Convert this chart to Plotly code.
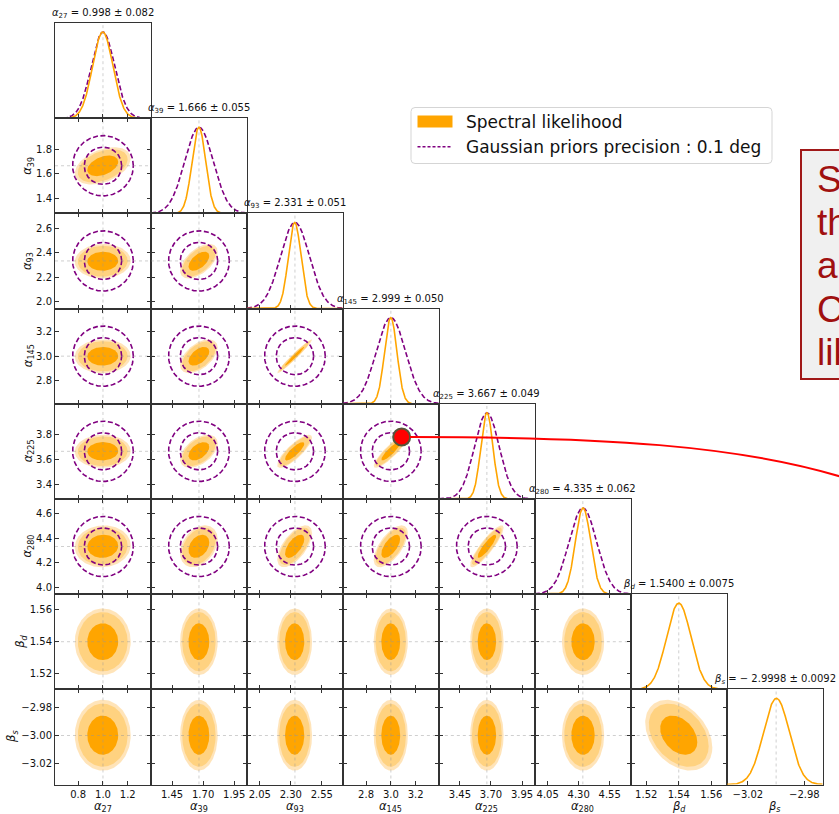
import numpy as np
import plotly.graph_objects as go

# ---------------------------------------------------------------- fit results
PARAM_LABELS = ["<i>α</i><sub>27</sub>", "<i>α</i><sub>39</sub>", "<i>α</i><sub>93</sub>",
                "<i>α</i><sub>145</sub>", "<i>α</i><sub>225</sub>", "<i>α</i><sub>280</sub>",
                "<i>β</i><sub><i>d</i></sub>", "<i>β</i><sub><i>s</i></sub>"]
TITLE_DECIMALS = [3, 3, 3, 3, 3, 3, 4, 4]
TRUE_VALUES = [1.0, 1.6667, 2.3333, 3.0, 3.6667, 4.3333, 1.54, -3.0]
POST_MEANS = [0.998, 1.666, 2.331, 2.999, 3.667, 4.335, 1.5400, -2.9998]
POST_SIGMAS = [0.082, 0.055, 0.051, 0.050, 0.049, 0.062, 0.0075, 0.0092]

# correlation coefficients of the spectral likelihood (lower triangle, row i vs column j)
CORR_ROWS = [
    [],
    [0.40],
    [0.03, 0.55],
    [0.02, 0.52, 0.975],
    [0.02, 0.48, 0.82, 0.88],
    [0.04, 0.33, 0.62, 0.64, 0.88],
    [0.00, 0.00, 0.00, 0.00, 0.00, 0.00],
    [0.00, 0.00, 0.00, 0.00, 0.00, 0.00, -0.35],
]

# Gaussian priors on the polarisation angles (0.1 deg)
N_ANGLES = 6
PRIOR_SIGMA = 0.1
PRIOR_LEVELS = [0.68, 0.95]
PRIOR_CURVE_SIGMAS = [0.094, 0.115, 0.117, 0.118, 0.100, 0.112]

# likelihood contour levels (Mahalanobis radii) and the sparse sample edge
CONTOUR_RADII = [1.52, 2.45]
EDGE_RADIUS = 2.75

# highlighted sample in the alpha145 / alpha225 panel
MARK_X, MARK_Y = 3.087, 3.783

# ---------------------------------------------------------------- axes set-up
AX_RANGES = [(0.613, 1.387), (1.280, 2.053), (1.946, 2.720), (2.613, 3.387),
             (3.280, 4.053), (3.946, 4.720), (1.5105, 1.5695), (-3.035, -2.967)]
X_TICKS = [[0.8, 1.0, 1.2], [1.45, 1.70, 1.95], [2.05, 2.30, 2.55], [2.8, 3.0, 3.2],
           [3.45, 3.70, 3.95], [4.05, 4.30, 4.55], [1.52, 1.54, 1.56], [-3.02, -2.98]]
X_TICK_FMT = [".1f", ".2f", ".2f", ".1f", ".2f", ".2f", ".2f", ".2f"]
Y_TICKS = [[], [1.4, 1.6, 1.8], [2.0, 2.2, 2.4, 2.6], [2.8, 3.0, 3.2], [3.4, 3.6, 3.8],
           [4.0, 4.2, 4.4, 4.6], [1.52, 1.54, 1.56], [-3.02, -3.00, -2.98]]
Y_TICK_FMT = [".1f", ".1f", ".1f", ".1f", ".1f", ".1f", ".2f", ".2f"]
Y_LABEL_X = [0, 28, 28, 28, 28, 28, 21, 12]

FIG_W, FIG_H = 839, 814
G_LEFT, G_RIGHT, G_TOP, G_BOTTOM = 55.0, 822.7, 23.0, 784.5
N = len(PARAM_LABELS)
CW = (G_RIGHT - G_LEFT) / N
CH = (G_BOTTOM - G_TOP) / N

ORANGE = "#FFA500"
ORANGE_LIGHT = "#FFD280"
ORANGE_EDGE = "rgba(255,196,100,0.45)"
PURPLE = "#800080"
SPINE = "#333333"
TRUTH = "rgba(150,150,150,0.65)"
FONT = "DejaVu Sans"


def fx(px):
    return px / FIG_W


def fy(py):
    return 1 - py / FIG_H


def ellipse(mx, my, sx, sy, rho, r, npts=140):
    t = np.linspace(0, 2 * np.pi, npts)
    x = mx + r * sx * np.cos(t)
    y = my + r * sy * (rho * np.cos(t) + np.sqrt(1 - rho ** 2) * np.sin(t))
    return x, y


def fmt_value(v, d):
    s = f"{v:.{d}f}"
    return s.replace("-", "− ") if v < 0 else s


fig = go.Figure()
layout = {}
annotations = []
shapes = []

k = 0
for i in range(N):
    for j in range(i + 1):
        k += 1
        xs = "x" if k == 1 else f"x{k}"
        ys = "y" if k == 1 else f"y{k}"
        xa = "xaxis" if k == 1 else f"xaxis{k}"
        ya = "yaxis" if k == 1 else f"yaxis{k}"
        diag = i == j
        bottom = i == N - 1
        left = j == 0 and not diag

        layout[xa] = dict(
            domain=[fx(G_LEFT + j * CW), fx(G_LEFT + (j + 1) * CW)],
            range=list(AX_RANGES[j]), anchor=ys, tickmode="array",
            tickvals=X_TICKS[j], tickformat=X_TICK_FMT[j],
            ticks="inside", ticklen=4, tickwidth=1, tickcolor=SPINE,
            mirror=True if diag else "allticks", showline=True,
            linecolor=SPINE, linewidth=1, showgrid=False, zeroline=False,
            showticklabels=bottom, automargin=False,
            tickfont=dict(size=10, color="#111111"),
        )
        layout[ya] = dict(
            domain=[fy(G_TOP + (i + 1) * CH), fy(G_TOP + i * CH)],
            range=[0, 1.105] if diag else list(AX_RANGES[i]), anchor=xs,
            tickmode="array", tickvals=[] if diag else Y_TICKS[i],
            tickformat=Y_TICK_FMT[i],
            ticks="" if diag else "inside", ticklen=4, tickwidth=1, tickcolor=SPINE,
            mirror=True if diag else "allticks", showline=True,
            linecolor=SPINE, linewidth=1, showgrid=False, zeroline=False,
            showticklabels=left, automargin=False,
            tickfont=dict(size=10, color="#111111"),
        )

        lo_x, hi_x = AX_RANGES[j]
        if diag:
            xg = np.linspace(lo_x, hi_x, 400)
            fig.add_trace(go.Scatter(x=[TRUE_VALUES[j]] * 2, y=[0, 1.105], xaxis=xs, yaxis=ys,
                                     mode="lines", line=dict(color=TRUTH, width=0.7, dash="dot"),
                                     hoverinfo="skip", showlegend=False))
            if i < N_ANGLES:
                yp = np.exp(-0.5 * ((xg - TRUE_VALUES[i]) / PRIOR_CURVE_SIGMAS[i]) ** 2)
                fig.add_trace(go.Scatter(x=xg, y=yp, xaxis=xs, yaxis=ys, mode="lines",
                                         line=dict(color=PURPLE, width=1.6, dash="5px,2.5px"),
                                         hoverinfo="skip", showlegend=False))
            yo = np.exp(-0.5 * ((xg - POST_MEANS[i]) / POST_SIGMAS[i]) ** 2)
            fig.add_trace(go.Scatter(x=xg, y=yo, xaxis=xs, yaxis=ys, mode="lines",
                                     line=dict(color=ORANGE, width=1.6),
                                     hoverinfo="skip", showlegend=False))
            d = TITLE_DECIMALS[i]
            annotations.append(dict(
                x=fx(G_LEFT + (j + 0.5) * CW), y=fy(G_TOP + i * CH - 2),
                xref="paper", yref="paper", xanchor="center", yanchor="bottom",
                text=f"{PARAM_LABELS[i]} = {fmt_value(POST_MEANS[i], d)} ± {fmt_value(POST_SIGMAS[i], d)}",
                showarrow=False, font=dict(size=10, color="#111111"), borderpad=0))
        else:
            rho = CORR_ROWS[i][j]
            mx, my = POST_MEANS[j], POST_MEANS[i]
            sx, sy = POST_SIGMAS[j], POST_SIGMAS[i]
            for r, col in [(EDGE_RADIUS, ORANGE_EDGE), (CONTOUR_RADII[1], ORANGE_LIGHT),
                           (CONTOUR_RADII[0], ORANGE)]:
                ex, ey = ellipse(mx, my, sx, sy, rho, r)
                fig.add_trace(go.Scatter(x=ex, y=ey, xaxis=xs, yaxis=ys, mode="lines",
                                         fill="toself", fillcolor=col, line=dict(width=0),
                                         hoverinfo="skip", showlegend=False))
            if i < N_ANGLES and j < N_ANGLES:
                for p in PRIOR_LEVELS:
                    r = np.sqrt(-2 * np.log(1 - p))
                    cx, cy = ellipse(TRUE_VALUES[j], TRUE_VALUES[i], PRIOR_SIGMA, PRIOR_SIGMA, 0.0, r, 200)
                    fig.add_trace(go.Scatter(x=cx, y=cy, xaxis=xs, yaxis=ys, mode="lines",
                                             line=dict(color=PURPLE, width=1.6, dash="5px,2.5px"),
                                             hoverinfo="skip", showlegend=False))
            lo_y, hi_y = AX_RANGES[i]
            fig.add_trace(go.Scatter(x=[TRUE_VALUES[j]] * 2, y=[lo_y, hi_y], xaxis=xs, yaxis=ys,
                                     mode="lines", line=dict(color=TRUTH, width=0.7, dash="dot"),
                                     hoverinfo="skip", showlegend=False))
            fig.add_trace(go.Scatter(x=[lo_x, hi_x], y=[TRUE_VALUES[i]] * 2, xaxis=xs, yaxis=ys,
                                     mode="lines", line=dict(color=TRUTH, width=0.7, dash="dot"),
                                     hoverinfo="skip", showlegend=False))
            if i == 4 and j == 3:
                fig.add_trace(go.Scatter(x=[MARK_X], y=[MARK_Y], xaxis=xs, yaxis=ys, mode="markers",
                                         marker=dict(size=17, color="#FF0000",
                                                     line=dict(color="#55553A", width=2)),
                                         cliponaxis=False, hoverinfo="skip", showlegend=False))

        if bottom:
            annotations.append(dict(
                x=fx(G_LEFT + (j + 0.5) * CW), y=fy(806), xref="paper", yref="paper",
                xanchor="center", yanchor="middle", text=PARAM_LABELS[j], showarrow=False,
                font=dict(size=11.5, color="#111111"), borderpad=0))
        if left:
            annotations.append(dict(
                x=fx(Y_LABEL_X[i]), y=fy(G_TOP + (i + 0.5) * CH), xref="paper", yref="paper",
                xanchor="center", yanchor="middle", text=PARAM_LABELS[i], textangle=-90,
                showarrow=False, font=dict(size=11.5, color="#111111")))

# ---------------------------------------------------------------- legend
LEGEND_ITEMS = ["Spectral likelihood", "Gaussian priors precision : 0.1 deg"]
lx0, lx1, ly0, ly1, rad = 411, 772, 107.5, 163.5, 4
shapes.append(dict(
    type="path", xref="paper", yref="paper", layer="above",
    path=(f"M {fx(lx0 + rad)},{fy(ly0)} L {fx(lx1 - rad)},{fy(ly0)} "
          f"Q {fx(lx1)},{fy(ly0)} {fx(lx1)},{fy(ly0 + rad)} L {fx(lx1)},{fy(ly1 - rad)} "
          f"Q {fx(lx1)},{fy(ly1)} {fx(lx1 - rad)},{fy(ly1)} L {fx(lx0 + rad)},{fy(ly1)} "
          f"Q {fx(lx0)},{fy(ly1)} {fx(lx0)},{fy(ly1 - rad)} L {fx(lx0)},{fy(ly0 + rad)} "
          f"Q {fx(lx0)},{fy(ly0)} {fx(lx0 + rad)},{fy(ly0)} Z"),
    fillcolor="rgba(255,255,255,0.8)", line=dict(color="#D5D5D5", width=1)))
shapes.append(dict(type="rect", xref="paper", yref="paper", layer="above",
                   x0=fx(417.5), x1=fx(452.5), y0=fy(115.5), y1=fy(127.5),
                   fillcolor=ORANGE, line=dict(width=0)))
shapes.append(dict(type="line", xref="paper", yref="paper", layer="above",
                   x0=fx(417.5), x1=fx(452.5), y0=fy(146.7), y1=fy(146.7),
                   line=dict(color=PURPLE, width=1.5, dash="3px,2px")))
for text, yc in zip(LEGEND_ITEMS, [121.7, 146.7]):
    annotations.append(dict(x=fx(465), y=fy(yc), xref="paper", yref="paper",
                            xanchor="left", yanchor="middle", text=text, showarrow=False,
                            font=dict(size=17, color="#111111"), borderpad=0))

# ---------------------------------------------------------------- call-out box and arrow
CALLOUT_LINES = ["Sharper", "than", "any", "CMB", "likelihood"]
shapes.append(dict(type="rect", xref="paper", yref="paper", layer="above",
                   x0=fx(801), x1=fx(900), y0=fy(379), y1=fy(150),
                   fillcolor="#F0F0F0", line=dict(color="#A01818", width=2)))
for n_line, text in enumerate(CALLOUT_LINES):
    baseline = 191.7 + 43.3 * n_line
    annotations.append(dict(x=fx(816), y=fy(baseline - 12.5), xref="paper", yref="paper",
                            xanchor="left", yanchor="middle", text=text, showarrow=False,
                            font=dict(size=37, color="#A01010", family="Liberation Sans"),
                            borderpad=0))
shapes.append(dict(type="path", xref="paper", yref="paper", layer="above",
                   path=(f"M {fx(410)},{fy(437)} C {fx(600)},{fy(437)} "
                         f"{fx(740)},{fy(445)} {fx(845)},{fy(478)}"),
                   line=dict(color="#FF0000", width=2)))

layout.update(
    width=FIG_W, height=FIG_H, margin=dict(l=0, r=0, t=0, b=0, autoexpand=False),
    template="none", paper_bgcolor="white", plot_bgcolor="white",
    font=dict(family=FONT, color="#111111"), showlegend=False,
    annotations=annotations, shapes=shapes,
)
fig.update_layout(**layout)
fig.write_html("out.html")
